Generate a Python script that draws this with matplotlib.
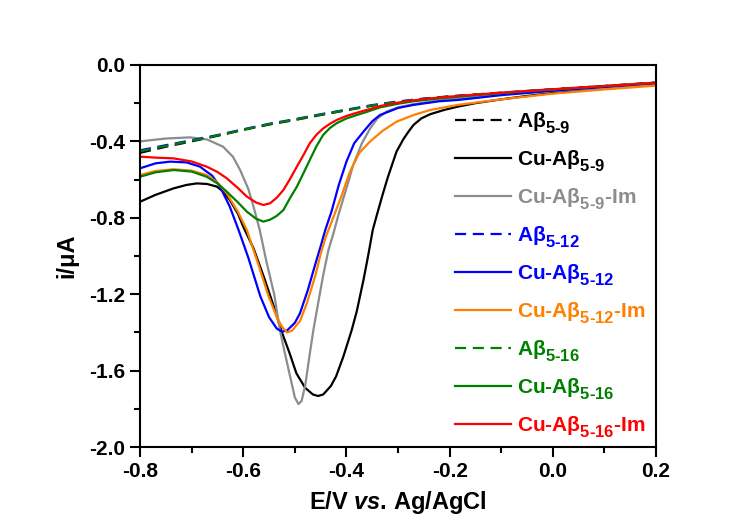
import numpy as np
import matplotlib
matplotlib.use("Agg")
import matplotlib.pyplot as plt
import matplotlib._mathtext as mtext
from matplotlib.ticker import MultipleLocator, FormatStrFormatter

plt.rcParams['font.family'] = ['Liberation Sans', 'DejaVu Sans']
plt.rcParams['font.weight'] = 'bold'
plt.rcParams['mathtext.fontset'] = 'custom'
plt.rcParams['mathtext.rm'] = 'Liberation Sans:bold'
plt.rcParams['mathtext.bf'] = 'Liberation Sans:bold'
plt.rcParams['mathtext.it'] = 'Liberation Sans:bold:italic'
plt.rcParams['mathtext.default'] = 'rm'
plt.rcParams['axes.unicode_minus'] = False
# subscripts sit lower and larger in the original figure
mtext.FontConstantsBase.sub1 = 0.55
mtext.SHRINK_FACTOR = 0.8

### Data (E in V, i in uA) ###

# blank peptides (dashed, almost on top of each other)
E_pep = [-0.80, -0.75, -0.70, -0.65, -0.60, -0.55, -0.50, -0.45, -0.40, -0.35,
         -0.30, -0.25, -0.20, -0.15, -0.10, -0.05, 0.00, 0.05, 0.10, 0.15, 0.20]
i_ab59 = [-0.460, -0.428, -0.400, -0.371, -0.340, -0.312, -0.288, -0.262, -0.237, -0.213,
          -0.194, -0.178, -0.166, -0.156, -0.147, -0.138, -0.129, -0.120, -0.112, -0.103, -0.094]
i_ab512 = [-0.447, -0.420, -0.394, -0.367, -0.337, -0.308, -0.284, -0.258, -0.234, -0.210,
           -0.191, -0.176, -0.164, -0.154, -0.145, -0.136, -0.127, -0.118, -0.110, -0.101, -0.092]
i_ab516 = [-0.452, -0.424, -0.397, -0.369, -0.339, -0.310, -0.286, -0.260, -0.236, -0.212,
           -0.193, -0.177, -0.165, -0.155, -0.146, -0.137, -0.128, -0.119, -0.111, -0.102, -0.093]

# Cu-Ab5-9
E_cu59 = [-0.80, -0.77, -0.735, -0.71, -0.69, -0.67, -0.651, -0.64, -0.626, -0.61, -0.60,
          -0.58, -0.56, -0.54, -0.525, -0.51, -0.497, -0.48, -0.465, -0.455, -0.445, -0.43,
          -0.42, -0.406, -0.39, -0.38, -0.367, -0.358, -0.349, -0.341, -0.33, -0.32, -0.31,
          -0.303, -0.29, -0.28, -0.27, -0.255, -0.238, -0.21, -0.184, -0.15, -0.10, -0.05,
          0.00, 0.05, 0.10, 0.15, 0.20]
i_cu59 = [-0.716, -0.680, -0.646, -0.628, -0.620, -0.623, -0.637, -0.660, -0.707, -0.780, -0.846,
          -0.960, -1.110, -1.270, -1.400, -1.510, -1.614, -1.690, -1.725, -1.733, -1.725, -1.680,
          -1.630, -1.527, -1.390, -1.290, -1.126, -1.000, -0.864, -0.785, -0.680, -0.590, -0.510,
          -0.454, -0.390, -0.350, -0.314, -0.280, -0.258, -0.235, -0.218, -0.200, -0.180, -0.162,
          -0.147, -0.135, -0.124, -0.113, -0.100]

# Cu-Ab5-9-Im
E_cu59im = [-0.80, -0.75, -0.703, -0.67, -0.639, -0.62, -0.606, -0.59, -0.58, -0.568, -0.555,
            -0.54, -0.529, -0.52, -0.51, -0.50, -0.493, -0.487, -0.48, -0.472, -0.464, -0.455,
            -0.445, -0.435, -0.425, -0.416, -0.405, -0.395, -0.387, -0.37, -0.354, -0.34,
            -0.322, -0.30, -0.27, -0.22, -0.15, -0.10, 0.00, 0.10, 0.20]
i_cu59im = [-0.400, -0.385, -0.379, -0.390, -0.428, -0.480, -0.550, -0.650, -0.742, -0.864, -1.030,
            -1.200, -1.387, -1.500, -1.620, -1.740, -1.775, -1.760, -1.680, -1.530, -1.387, -1.250,
            -1.100, -0.970, -0.880, -0.790, -0.690, -0.600, -0.524, -0.410, -0.332, -0.280,
            -0.244, -0.222, -0.205, -0.185, -0.165, -0.153, -0.135, -0.120, -0.105]

# Cu-Ab5-12
E_cu512 = [-0.80, -0.77, -0.742, -0.71, -0.684, -0.66, -0.645, -0.626, -0.609, -0.59, -0.567,
           -0.55, -0.535, -0.525, -0.515, -0.50, -0.49, -0.475, -0.46, -0.45, -0.441, -0.429,
           -0.415, -0.40, -0.385, -0.367, -0.35, -0.335, -0.30, -0.27, -0.22, -0.183, -0.10,
           0.00, 0.10, 0.20]
i_cu512 = [-0.541, -0.515, -0.506, -0.510, -0.532, -0.580, -0.637, -0.742, -0.864, -1.010, -1.210,
           -1.320, -1.380, -1.396, -1.390, -1.350, -1.300, -1.180, -1.040, -0.950, -0.864, -0.768,
           -0.630, -0.506, -0.410, -0.349, -0.295, -0.262, -0.225, -0.209, -0.190, -0.183, -0.158,
           -0.135, -0.115, -0.095]

# Cu-Ab5-12-Im
E_cu512im = [-0.80, -0.77, -0.735, -0.70, -0.671, -0.65, -0.632, -0.61, -0.593, -0.57, -0.551,
             -0.535, -0.525, -0.515, -0.505, -0.49, -0.477, -0.46, -0.45, -0.44, -0.43, -0.42,
             -0.41, -0.40, -0.393, -0.375, -0.354, -0.33, -0.303, -0.27, -0.238, -0.184, -0.10,
             0.00, 0.10, 0.20]
i_cu512im = [-0.576, -0.555, -0.546, -0.553, -0.576, -0.615, -0.672, -0.770, -0.864, -1.050, -1.210,
             -1.320, -1.370, -1.400, -1.390, -1.340, -1.250, -1.100, -0.990, -0.900, -0.830, -0.760,
             -0.690, -0.610, -0.558, -0.460, -0.400, -0.345, -0.297, -0.262, -0.236, -0.209, -0.180,
             -0.150, -0.128, -0.108]

# Cu-Ab5-16
E_cu516 = [-0.80, -0.77, -0.735, -0.70, -0.671, -0.65, -0.632, -0.61, -0.593, -0.575, -0.561,
           -0.548, -0.535, -0.522, -0.51, -0.496, -0.483, -0.471, -0.458, -0.445, -0.432, -0.419,
           -0.40, -0.38, -0.36, -0.335, -0.30, -0.27, -0.22, -0.15, -0.10, 0.00, 0.10, 0.20]
i_cu516 = [-0.585, -0.562, -0.550, -0.558, -0.585, -0.620, -0.663, -0.720, -0.768, -0.805, -0.820,
           -0.810, -0.790, -0.759, -0.700, -0.637, -0.565, -0.497, -0.425, -0.366, -0.330, -0.305,
           -0.280, -0.262, -0.245, -0.222, -0.203, -0.190, -0.175, -0.158, -0.147, -0.128, -0.110, -0.093]

# Cu-Ab5-16-Im
E_cu516im = [-0.80, -0.77, -0.735, -0.70, -0.671, -0.65, -0.632, -0.61, -0.593, -0.575, -0.561,
             -0.548, -0.535, -0.522, -0.51, -0.496, -0.483, -0.471, -0.458, -0.445, -0.432, -0.419,
             -0.40, -0.38, -0.36, -0.335, -0.30, -0.27, -0.22, -0.15, -0.10, 0.00, 0.10, 0.20]
i_cu516im = [-0.480, -0.485, -0.489, -0.505, -0.532, -0.560, -0.593, -0.645, -0.689, -0.720, -0.733,
             -0.724, -0.695, -0.654, -0.600, -0.532, -0.470, -0.410, -0.365, -0.332, -0.308, -0.288,
             -0.267, -0.250, -0.235, -0.215, -0.197, -0.185, -0.170, -0.155, -0.145, -0.127, -0.110, -0.093]

sub = lambda s: r'$_{' + s.replace('-', r'\text{-}') + '}$'
labels = ['Aβ' + sub('5-9'), 'Cu-Aβ' + sub('5-9'), 'Cu-Aβ' + sub('5-9') + '-Im',
          'Aβ' + sub('5-12'), 'Cu-Aβ' + sub('5-12'), 'Cu-Aβ' + sub('5-12') + '-Im',
          'Aβ' + sub('5-16'), 'Cu-Aβ' + sub('5-16'), 'Cu-Aβ' + sub('5-16') + '-Im']
colors = ['black', 'black', '#8c8c8c', '#0000ff', '#0000ff', '#ff8000', '#008000', '#008000', '#ff0000']
dashed = [True, False, False, True, False, False, True, False, False]

curves = [(E_pep, i_ab59), (E_cu59, i_cu59), (E_cu59im, i_cu59im),
          (E_pep, i_ab512), (E_cu512, i_cu512), (E_cu512im, i_cu512im),
          (E_pep, i_ab516), (E_cu516, i_cu516), (E_cu516im, i_cu516im)]

fig = plt.figure(figsize=(7.46, 5.27), dpi=100)
ax = fig.add_axes([0.1877, 0.1518, 0.6917, 0.7249])

for (E, cur), lab, col, d in zip(curves, labels, colors, dashed):
    ls = (0, (5, 3)) if d else '-'
    ax.plot(E, cur, color=col, lw=1.6, ls=ls, label=lab)

ax.set_xlim(-0.8, 0.2)
ax.set_ylim(-2.0, 0.0)
ax.xaxis.set_major_locator(MultipleLocator(0.2))
ax.xaxis.set_minor_locator(MultipleLocator(0.1))
ax.yaxis.set_major_locator(MultipleLocator(0.4))
ax.yaxis.set_minor_locator(MultipleLocator(0.2))
ax.xaxis.set_major_formatter(FormatStrFormatter('%.1f'))
ax.yaxis.set_major_formatter(FormatStrFormatter('%.1f'))
ax.tick_params(which='both', direction='out', width=1.5, labelsize=15, top=False, right=False)
ax.tick_params(which='major', length=7)
ax.tick_params(which='minor', length=4)
for s in ax.spines.values():
    s.set_linewidth(1.5)

ax.set_xlabel(r'E/V $\mathit{vs}$. Ag/AgCl', fontsize=17, fontweight='bold', labelpad=6)
ax.set_ylabel('i/μA', fontsize=17, fontweight='bold', labelpad=8)

leg = ax.legend(loc='upper left', bbox_to_anchor=(0.595, 0.902), frameon=False,
                fontsize=15, handlelength=2.65, handletextpad=0.3, labelspacing=0.62,
                borderaxespad=0)
for txt, col in zip(leg.get_texts(), colors):
    txt.set_color(col)

fig.savefig('out.png', dpi=100)
